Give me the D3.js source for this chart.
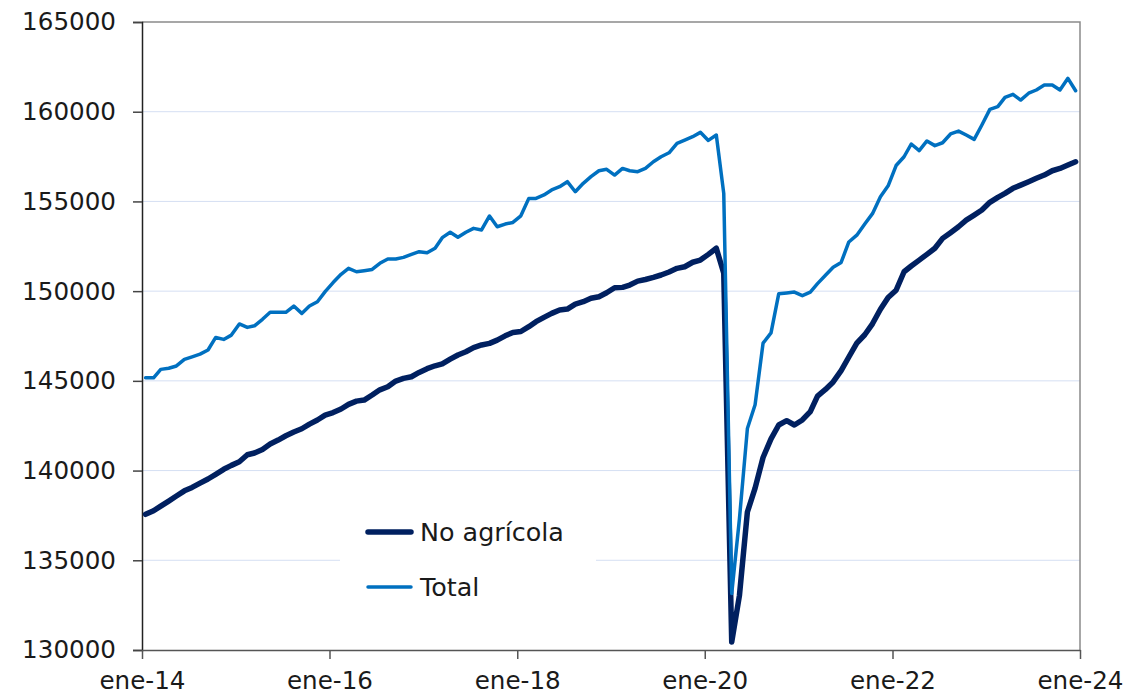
<!DOCTYPE html>
<html>
<head>
<meta charset="utf-8">
<script src="https://cdn.jsdelivr.net/npm/d3@7/dist/d3.min.js"></script>
<style>
  html, body { margin: 0; padding: 0; background: #ffffff; }
  svg { display: block; }
  text { font-family: "DejaVu Sans", Verdana, sans-serif; fill: #1a1a1a; }
</style>
</head>
<body>
<svg id="chart" width="1132" height="695"></svg>
<script>
// Monthly employment, thousands of persons, ene-2014 .. dic-2023
const startYear = 2014;
const startMonth = 0;

const noAgricola = [
  137560, 137760, 138020, 138300, 138580, 138870, 139060, 139300, 139530, 139790, 140070, 140290,
  140490, 140880, 140980, 141180, 141480, 141700, 141940, 142150, 142330, 142590, 142820, 143090,
  143230, 143430, 143690, 143870, 143930, 144210, 144500, 144670, 144990, 145140, 145230, 145470,
  145680, 145840, 145950, 146210, 146440, 146620, 146850, 147000, 147090, 147270, 147510, 147700,
  147750, 148020, 148300, 148540, 148760, 148950, 149000, 149280, 149410, 149600, 149690, 149910,
  150190, 150210, 150340, 150560, 150650, 150770, 150900, 151070, 151270, 151360, 151610, 151730,
  152050, 152390, 151000, 130450, 133030, 137690, 139020, 140730, 141770, 142540, 142780, 142540,
  142820, 143290, 144150, 144520, 144940, 145570, 146330, 147100, 147570, 148180, 148990, 149650,
  150050, 151080, 151400, 151730, 152050, 152390, 152940, 153260, 153590, 153960, 154240, 154520,
  154950, 155230, 155450, 155730, 155910, 156100, 156290, 156470, 156710, 156840, 157030, 157210
];

const total = [
  145170, 145170, 145640, 145700, 145830, 146200, 146340, 146490, 146720, 147420, 147310, 147550,
  148170, 147980, 148070, 148430, 148820, 148820, 148820, 149170, 148760, 149170, 149410, 149970,
  150480, 150940, 151270, 151080, 151140, 151210, 151550, 151790, 151790, 151880, 152050, 152200,
  152140, 152390, 152980, 153280, 153000, 153280, 153500, 153410, 154190, 153590, 153740, 153830,
  154200, 155170, 155170, 155360, 155640, 155820, 156100, 155540, 156010, 156380, 156710, 156790,
  156470, 156840, 156710, 156660, 156840, 157210, 157490, 157710, 158240, 158420, 158610, 158850,
  158400, 158700, 155450, 133150, 137300, 142340, 143670, 147100, 147670, 149850, 149900, 149950,
  149750, 149950, 150420, 150890, 151330, 151600, 152740, 153120, 153740, 154320, 155260, 155870,
  157000, 157490, 158200, 157830, 158370, 158110, 158270, 158760, 158920, 158700, 158460, 159260,
  160130, 160280, 160800, 160970, 160650, 161030, 161210, 161490, 161490, 161210, 161860, 161170
];

const seriesNames = ["No agrícola", "Total"];
const yTicks = [130000, 135000, 140000, 145000, 150000, 155000, 160000, 165000];
const xTickYears = [2014, 2016, 2018, 2020, 2022, 2024];
const monthAbbr = ["ene", "feb", "mar", "abr", "may", "jun", "jul", "ago", "sep", "oct", "nov", "dic"];

const svg = d3.select("#chart");
const plot = { left: 142, right: 1080, top: 22, bottom: 650 };

// Each monthly observation sits in the middle of its month
const dateOf = i => new Date(startYear, startMonth + i, 15);

const x = d3.scaleTime()
  .domain([new Date(startYear, 0, 1), new Date(2024, 0, 1)])
  .range([plot.left, plot.right]);

const y = d3.scaleLinear()
  .domain([130000, 165000])
  .range([plot.bottom, plot.top]);

// Horizontal gridlines
svg.append("g")
  .selectAll("line")
  .data(yTicks.filter(v => v > 130000 && v < 165000))
  .join("line")
  .attr("x1", plot.left).attr("x2", plot.right)
  .attr("y1", d => y(d)).attr("y2", d => y(d))
  .attr("stroke", "#d5dff3")
  .attr("stroke-width", 1);

// Plot frame: top and right edges
svg.append("path")
  .attr("d", `M${plot.left},${plot.top}H${plot.right}V${plot.bottom}`)
  .attr("fill", "none")
  .attr("stroke", "#8a8a8a")
  .attr("stroke-width", 1.5);

const fontSize = 24.6;
const legendFontSize = 25.4;

// Y axis
const yAxis = d3.axisLeft(y)
  .tickValues(yTicks)
  .tickFormat(d3.format("d"))
  .tickSize(9)
  .tickPadding(17);

const gy = svg.append("g")
  .attr("transform", `translate(${plot.left},0)`)
  .call(yAxis);
gy.select(".domain").attr("stroke", "#222").attr("stroke-width", 1.5);
gy.selectAll(".tick line").attr("stroke", "#444").attr("stroke-width", 1.5);
gy.selectAll(".tick text")
  .style("font-size", fontSize + "px")
  .style("font-family", '"DejaVu Sans", Verdana, sans-serif')
  .attr("fill", "#1a1a1a");

// X axis
const xAxis = d3.axisBottom(x)
  .tickValues(xTickYears.map(yr => new Date(yr, 0, 1)))
  .tickFormat(d => monthAbbr[d.getMonth()] + "-" + String(d.getFullYear()).slice(2))
  .tickSize(9)
  .tickPadding(12.5)
  .tickSizeOuter(0);

const gx = svg.append("g")
  .attr("transform", `translate(0,${plot.bottom})`)
  .call(xAxis);
gx.select(".domain").attr("stroke", "#555").attr("stroke-width", 1.5);
gx.selectAll(".tick line").attr("stroke", "#555").attr("stroke-width", 1.5);
gx.selectAll(".tick text")
  .style("font-size", fontSize + "px")
  .style("font-family", '"DejaVu Sans", Verdana, sans-serif')
  .attr("fill", "#1a1a1a");

// Legend box (opaque, masks the gridline behind it)
const legend = svg.append("g");
legend.append("rect")
  .attr("x", 340).attr("y", 503)
  .attr("width", 256).attr("height", 112)
  .attr("fill", "#ffffff");

const seriesStyle = [
  { name: seriesNames[0], values: noAgricola, color: "#002060", width: 5.5 },
  { name: seriesNames[1], values: total, color: "#0070c0", width: 3.5 }
];

const line = d3.line()
  .x((d, i) => x(dateOf(i)))
  .y(d => y(d));

svg.append("g")
  .selectAll("path")
  .data(seriesStyle)
  .join("path")
  .attr("d", s => line(s.values))
  .attr("fill", "none")
  .attr("stroke", s => s.color)
  .attr("stroke-width", s => s.width)
  .attr("stroke-linejoin", "round")
  .attr("stroke-linecap", "round");

const legendRows = legend.selectAll("g.row")
  .data(seriesStyle)
  .join("g")
  .attr("class", "row")
  .attr("transform", (d, i) => `translate(0,${532 + i * 55})`);

legendRows.append("line")
  .attr("x1", 368).attr("x2", 411)
  .attr("y1", 0).attr("y2", 0)
  .attr("stroke", d => d.color)
  .attr("stroke-width", d => d.width)
  .attr("stroke-linecap", "round");

legendRows.append("text")
  .attr("x", 420)
  .attr("y", 0)
  .attr("dy", "0.36em")
  .style("font-size", legendFontSize + "px")
  .text(d => d.name);
</script>
</body>
</html>
